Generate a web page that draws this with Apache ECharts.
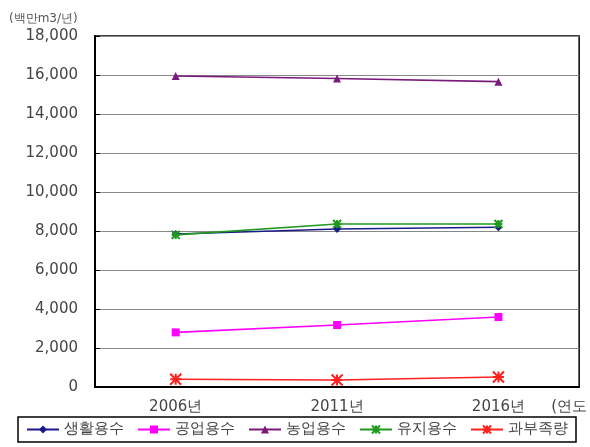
<!DOCTYPE html>
<html>
<head>
<meta charset="utf-8"/>
<title>용수 수요 전망</title>
<script src="https://cdn.jsdelivr.net/npm/echarts@6/dist/echarts.min.js"></script>
<style>
  html, body { margin: 0; padding: 0; background: #fff; }
  #main { width: 590px; height: 447px; }
</style>
</head>
<body>
<div id="main"></div>
<script type="text/javascript">
    var years = ['2006년', '2011년', '2016년'];
    var living = [7850, 8100, 8190];      // 생활용수
    var industry = [2800, 3180, 3590];    // 공업용수
    var farming = [15950, 15820, 15660];  // 농업용수
    var keeping = [7800, 8360, 8360];     // 유지용수
    var overdraft = [400, 360, 510];      // 과부족량

    var asterisk = 'path://M0,0L10,10M10,0L0,10M5,0L5,10M0,5L10,5';
    var font = 'DejaVu Sans, sans-serif';

    var myChart = echarts.init(document.getElementById('main'));

    function line(name, data, color, symbol, size, hollow) {
        return {
            name: name,
            type: 'line',
            data: data,
            symbol: symbol,
            symbolSize: size,
            showAllSymbol: true,
            lineStyle: { color: color, width: 1.6 },
            itemStyle: hollow
                ? { color: 'rgba(0,0,0,0)', borderColor: color, borderWidth: 2 }
                : { color: color, borderWidth: 0 },
            emphasis: { disabled: true }
        };
    }

    var option = {
        animation: false,
        title: {
            text: '(백만m3/년)',
            left: 4, top: 8,
            textStyle: { fontSize: 12, fontWeight: 'normal', color: '#555', fontFamily: font }
        },
        grid: { left: 95, right: 10, top: 36, bottom: 60, show: true, borderColor: '#000', borderWidth: 1.5 },
        legend: {
            bottom: 5, left: 18, right: 5,
            padding: [5, 8],
            itemGap: 13,
            itemWidth: 32, itemHeight: 10,
            borderColor: '#000', borderWidth: 1.5,
            textStyle: { fontSize: 15, color: '#444', fontFamily: font }
        },
        xAxis: {
            type: 'category',
            data: years,
            boundaryGap: true,
            name: '(연도',
            nameLocation: 'end',
            nameGap: 0,
            nameTextStyle: { fontSize: 15, color: '#444', fontFamily: font, verticalAlign: 'top', padding: [13, 0, 0, -28] },
            axisLine: { lineStyle: { color: '#000', width: 2 } },
            axisTick: { inside: true, length: 5, lineStyle: { color: '#000' } },
            axisLabel: { margin: 13, fontSize: 15, color: '#444', fontFamily: font }
        },
        yAxis: {
            type: 'value',
            min: 0, max: 18000, interval: 2000,
            axisLine: { show: true, lineStyle: { color: '#000', width: 2 } },
            axisTick: { show: true, inside: true, length: 5, lineStyle: { color: '#000' } },
            splitLine: { lineStyle: { color: '#888', width: 1 } },
            axisLabel: {
                margin: 17, fontSize: 15, color: '#444', fontFamily: font,
                formatter: function (v) { return v.toLocaleString('en-US'); }
            }
        },
        series: [
            line('생활용수', living, '#1a1a8c', 'diamond', 8),
            line('공업용수', industry, '#ff00ff', 'rect', 8),
            line('농업용수', farming, '#7a1a7a', 'triangle', 8),
            line('유지용수', keeping, '#1f9a1f', asterisk, 8, true),
            line('과부족량', overdraft, '#ff2020', asterisk, 11, true)
        ]
    };

    myChart.setOption(option);
</script>
</body>
</html>
